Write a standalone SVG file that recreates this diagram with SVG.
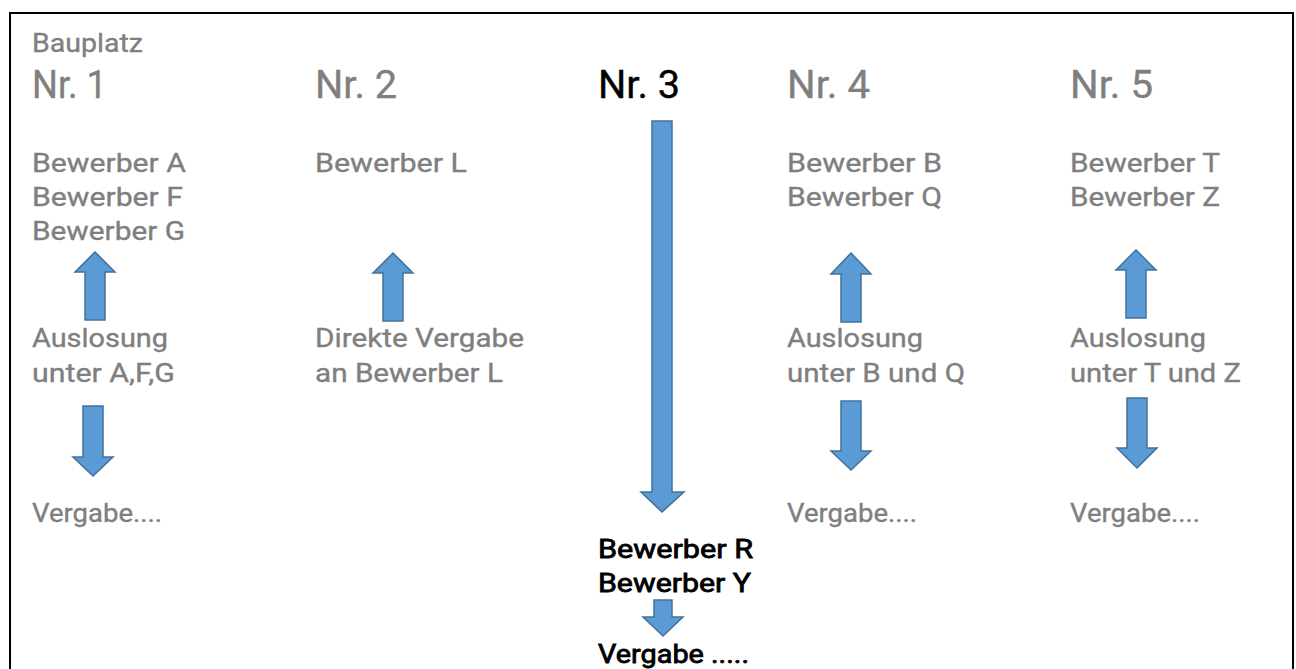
<svg xmlns="http://www.w3.org/2000/svg" width="1296" height="669" viewBox="0 0 1296 669">
<style>
text{font-family:Roboto,"Liberation Sans",sans-serif;font-size:26px;fill:#7f7f7f;stroke:#7f7f7f;stroke-width:0.35}
.h{font-size:38px}
.b{fill:#000;stroke:#000}
.bb{fill:#000;stroke:#000;stroke-width:0.8}
.arr{fill:#5b9bd5;stroke:#41719c;stroke-width:1.5;stroke-linejoin:miter}
</style>
<rect x="10" y="13" width="1283" height="680" fill="#fff" stroke="#000" stroke-width="2"/>
<g id="col1">
<text x="32" y="52" font-size="25" textLength="111" lengthAdjust="spacingAndGlyphs">Bauplatz</text>
<text class="h" x="32" y="98" textLength="75" lengthAdjust="spacingAndGlyphs">Nr. 1</text>
<text x="32" y="172" textLength="154" lengthAdjust="spacingAndGlyphs">Bewerber A</text>
<text x="32" y="206" textLength="151" lengthAdjust="spacingAndGlyphs">Bewerber F</text>
<text x="32" y="240" textLength="153" lengthAdjust="spacingAndGlyphs">Bewerber G</text>
<text x="32" y="347" textLength="136" lengthAdjust="spacingAndGlyphs">Auslosung</text>
<text x="32" y="382" textLength="143" lengthAdjust="spacingAndGlyphs">unter A,F,G</text>
<text x="32" y="522" textLength="130" lengthAdjust="spacingAndGlyphs">Vergabe....</text>
</g>
<g id="col2">
<text class="h" x="315" y="98" textLength="82" lengthAdjust="spacingAndGlyphs">Nr. 2</text>
<text x="315" y="172" textLength="152" lengthAdjust="spacingAndGlyphs">Bewerber L</text>
<text x="315" y="347" textLength="209" lengthAdjust="spacingAndGlyphs">Direkte Vergabe</text>
<text x="315" y="382" textLength="188" lengthAdjust="spacingAndGlyphs">an Bewerber L</text>
</g>
<g id="col3">
<text class="h b" x="598" y="98" textLength="82" lengthAdjust="spacingAndGlyphs">Nr. 3</text>
<text class="bb" x="598" y="558" textLength="155" lengthAdjust="spacingAndGlyphs">Bewerber R</text>
<text class="bb" x="598" y="592" textLength="153" lengthAdjust="spacingAndGlyphs">Bewerber Y</text>
<text class="bb" x="598" y="663" textLength="151" lengthAdjust="spacingAndGlyphs">Vergabe .....</text>
</g>
<g id="col4">
<text class="h" x="787" y="98" textLength="83" lengthAdjust="spacingAndGlyphs">Nr. 4</text>
<text x="787" y="172" textLength="155" lengthAdjust="spacingAndGlyphs">Bewerber B</text>
<text x="787" y="206" textLength="155" lengthAdjust="spacingAndGlyphs">Bewerber Q</text>
<text x="787" y="347" textLength="136" lengthAdjust="spacingAndGlyphs">Auslosung</text>
<text x="787" y="382" textLength="178" lengthAdjust="spacingAndGlyphs">unter B und Q</text>
<text x="787" y="522" textLength="130" lengthAdjust="spacingAndGlyphs">Vergabe....</text>
</g>
<g id="col5">
<text class="h" x="1070" y="98" textLength="83" lengthAdjust="spacingAndGlyphs">Nr. 5</text>
<text x="1070" y="172" textLength="150" lengthAdjust="spacingAndGlyphs">Bewerber T</text>
<text x="1070" y="206" textLength="150" lengthAdjust="spacingAndGlyphs">Bewerber Z</text>
<text x="1070" y="347" textLength="136" lengthAdjust="spacingAndGlyphs">Auslosung</text>
<text x="1070" y="382" textLength="171" lengthAdjust="spacingAndGlyphs">unter T und Z</text>
<text x="1070" y="522" textLength="130" lengthAdjust="spacingAndGlyphs">Vergabe....</text>
</g>
<g id="connectors">
<polygon class="arr" points="95,252 115,272 105,272 105,320 85,320 85,272 75,272"/>
<polygon class="arr" points="83,406 103,406 103,457 113,457 93,476 73,457 83,457"/>
<polygon class="arr" points="393,253 413,273 403,273 403,321 383,321 383,273 373,273"/>
<polygon class="arr" points="652,121 672,121 672,492 684,492 662,512 641,492 652,492"/>
<polygon class="arr" points="654,600 672,600 672,617 683,617 663,636 643,617 654,617"/>
<polygon class="arr" points="851,253 871,274 861,274 861,322 841,322 841,274 831,274"/>
<polygon class="arr" points="841,401 861,401 861,451 871,451 851,470 831,451 841,451"/>
<polygon class="arr" points="1136,250 1156,270 1146,270 1146,318 1126,318 1126,270 1116,270"/>
<polygon class="arr" points="1127,398 1147,398 1147,448 1157,448 1137,468 1117,448 1127,448"/>
</g>
</svg>
